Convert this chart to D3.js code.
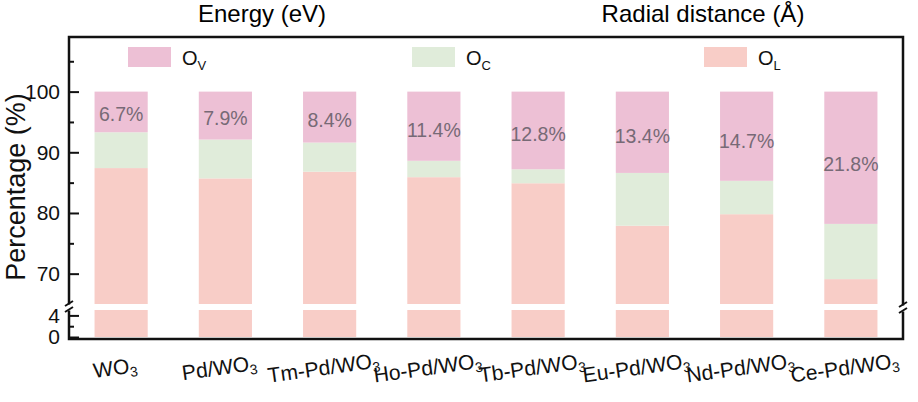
<!DOCTYPE html>
<html>
<head>
<meta charset="utf-8">
<script src="https://cdn.jsdelivr.net/npm/d3@7"></script>
<style>
  body { margin: 0; background: #fff; }
  svg { font-family: 'Liberation Sans', Arial, sans-serif; }
</style>
</head>
<body>
<svg id="chart" width="918" height="402"></svg>
<script>
// samples along the x axis
const samples = ['WO3', 'Pd/WO3', 'Tm-Pd/WO3', 'Ho-Pd/WO3', 'Tb-Pd/WO3', 'Eu-Pd/WO3', 'Nd-Pd/WO3', 'Ce-Pd/WO3'];
// oxygen species fractions (%), stacked bottom -> top: O_L, O_C, O_V
const oL = [87.4, 85.7, 86.8, 85.9, 84.9, 77.9, 79.8, 69.1];
const oC = [5.9, 6.4, 4.8, 2.7, 2.3, 8.7, 5.5, 9.1];
const oV = [6.7, 7.9, 8.4, 11.4, 12.8, 13.4, 14.7, 21.8];
const seriesKeys = ['OL', 'OC', 'OV'];
const majorTicks = [70, 80, 90, 100];
const minorTicks = [75, 85, 95, 105];
const lowerTicks = [0, 4];

const colors = { OL: '#f8cdc7', OC: '#e0ecda', OV: '#edc0d5' };

const svg = d3.select('#chart');
const mLeft = 69, mRight = 903, mTop = 37, mBottom = 339;

const rows = samples.map((s, i) => ({ name: s, OL: oL[i], OC: oC[i], OV: oV[i] }));
const stacked = d3.stack().keys(seriesKeys)(rows);

const x = d3.scaleBand().domain(samples).range([mLeft, mRight]).paddingInner(0.49).paddingOuter(0.245);
// broken y axis: upper part and lower part
const yTop = d3.scaleLinear().domain([65, 109]).range([304, mTop]);
const yBot = d3.scaleLinear().domain([0, 5]).range([337, 310]);

// top titles (from the panels above, cut in the original)
svg.append('text').attr('x', 262).attr('y', 22).attr('text-anchor', 'middle')
  .attr('font-size', 24).text('Energy (eV)');
svg.append('text').attr('x', 703).attr('y', 22).attr('text-anchor', 'middle')
  .attr('font-size', 24).text('Radial distance (Å)');

// bars
const gBars = svg.append('g');
stacked.forEach(layer => {
  const key = layer.key;
  layer.forEach((d, i) => {
    const xb = x(samples[i]);
    const lo = Math.max(d[0], 65), hi = Math.min(d[1], 109);
    if (hi > lo) {
      gBars.append('rect').attr('x', xb).attr('width', x.bandwidth())
        .attr('y', yTop(hi)).attr('height', yTop(lo) - yTop(hi))
        .attr('fill', colors[key]);
    }
    const lo2 = Math.max(d[0], 0), hi2 = Math.min(d[1], 5);
    if (hi2 > lo2) {
      gBars.append('rect').attr('x', xb).attr('width', x.bandwidth())
        .attr('y', yBot(hi2)).attr('height', yBot(lo2) - yBot(hi2))
        .attr('fill', colors[key]);
    }
  });
});

// O_V percentage labels
const vLayer = stacked[2];
svg.append('g').selectAll('text')
  .data(vLayer)
  .join('text')
  .attr('x', (d, i) => x(samples[i]) + x.bandwidth() / 2)
  .attr('y', d => (yTop(d[0]) + yTop(d[1])) / 2 + 2 + (d[1] - d[0]) * 0.3)
  .attr('text-anchor', 'middle')
  .attr('dominant-baseline', 'middle')
  .attr('font-size', 19.5)
  .attr('fill', '#776a76')
  .text((d, i) => oV[i] + '%');

// left axis (upper)
const axTop = svg.append('g').attr('transform', `translate(${mLeft},0)`)
  .call(d3.axisLeft(yTop).tickValues(majorTicks).tickSize(-10).tickPadding(9));
axTop.select('.domain').remove();
const axTopMinor = svg.append('g').attr('transform', `translate(${mLeft},0)`)
  .call(d3.axisLeft(yTop).tickValues(minorTicks).tickSize(-5).tickFormat(''));
axTopMinor.select('.domain').remove();
// left axis (lower)
const axBot = svg.append('g').attr('transform', `translate(${mLeft},0)`)
  .call(d3.axisLeft(yBot).tickValues(lowerTicks).tickSize(-10).tickPadding(9).tickFormat(d3.format('d')));
axBot.select('.domain').remove();
const axBotMinor = svg.append('g').attr('transform', `translate(${mLeft},0)`)
  .call(d3.axisLeft(yBot).tickValues([2]).tickSize(-5).tickFormat(''));
axBotMinor.select('.domain').remove();

svg.selectAll('.tick line').attr('stroke', '#111').attr('stroke-width', 2);
svg.selectAll('.tick text').attr('font-size', 21).attr('fill', '#111')
  .attr('font-family', "'Liberation Sans', Arial, sans-serif");

// frame lines with break
const frame = svg.append('g').attr('stroke', '#111').attr('stroke-width', 2.5).attr('fill', 'none');
frame.append('path').attr('d', `M${mLeft},${yTop.range()[0] + 0.5}V${mTop}H${mRight}V${yTop.range()[0] + 1.5}`);
frame.append('path').attr('d', `M${mLeft},${yBot.range()[1] + 0.5}V${mBottom}H${mRight}V${yBot.range()[1] + 1.5}`);
// break marks
[[mLeft, 307], [mRight, 308]].forEach(([bx, by]) => {
  frame.append('path').attr('stroke-width', 2)
    .attr('d', `M${bx - 4},${by - 1}L${bx + 4},${by - 6}M${bx - 4},${by + 5}L${bx + 4},${by}`);
});

// x labels, rotated, with subscript 3
const xl = svg.append('g');
samples.forEach(s => {
  const cx = x(s) + x.bandwidth() / 2 - 5;
  const t = xl.append('text')
    .attr('transform', `translate(${cx},375) rotate(-8)`)
    .attr('text-anchor', 'middle')
    .attr('font-size', 21)
    .attr('fill', '#111');
  t.append('tspan').text(s.slice(0, -1));
  t.append('tspan').attr('font-size', 14).attr('dy', 4).text('3');
});

// y axis title
svg.append('text')
  .attr('transform', `translate(25,187) rotate(-90)`)
  .attr('text-anchor', 'middle')
  .attr('font-size', 27)
  .attr('fill', '#111')
  .text('Percentage (%)');

// legend
const legendItems = [
  { key: 'OV', sub: 'V', x: 128 },
  { key: 'OC', sub: 'C', x: 412 },
  { key: 'OL', sub: 'L', x: 704 }
];
const lg = svg.append('g');
legendItems.forEach(it => {
  lg.append('rect').attr('x', it.x).attr('y', 47).attr('width', 43).attr('height', 20)
    .attr('fill', colors[it.key]);
  const t = lg.append('text').attr('x', it.x + 54).attr('y', 65)
    .attr('font-size', 20).attr('fill', '#111');
  t.append('tspan').text('O');
  t.append('tspan').attr('font-size', 13).attr('dy', 5).text(it.sub);
});
</script>
</body>
</html>
